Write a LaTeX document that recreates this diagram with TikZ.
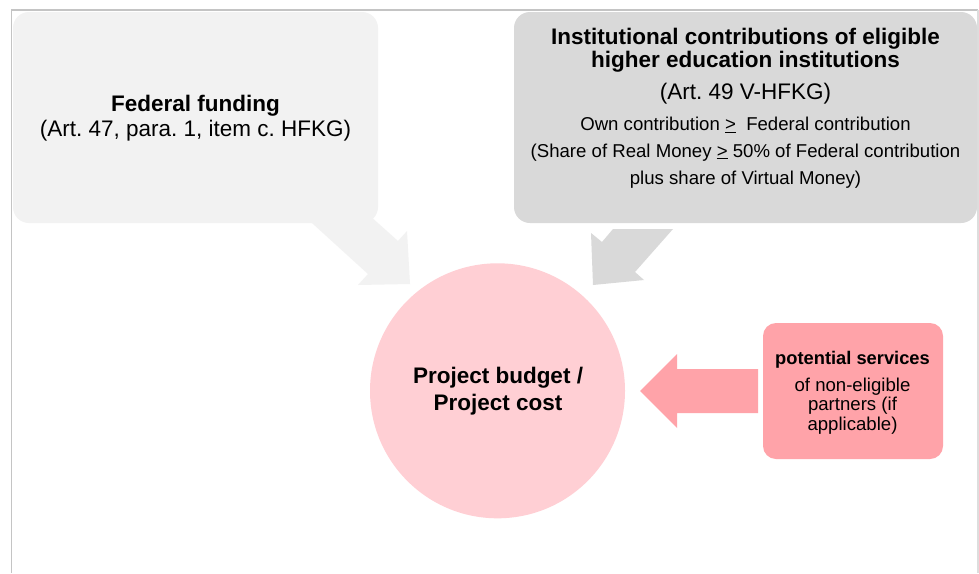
\documentclass[tikz,border=0pt]{standalone}
\usepackage{fontspec}
\setmainfont{Liberation Sans}
\frenchspacing
\definecolor{lgray}{HTML}{F2F2F2}
\definecolor{mgray}{HTML}{D9D9D9}
\definecolor{pinkL}{HTML}{FFCFD4}
\definecolor{pinkD}{HTML}{FFA3A9}
\definecolor{framec}{HTML}{C4C4C4}
\definecolor{framer}{HTML}{DDDDDD}
\begin{document}
\begin{tikzpicture}[x=1pt,y=-1pt,
  box/.style={rounded corners=16pt, inner sep=0pt, draw=none},
  txt/.style={anchor=base, inner sep=0pt, align=center},
  big/.style={font=\fontsize{22.5}{26}\selectfont},
  bigb/.style={font=\fontsize{22.5}{26}\selectfont\bfseries},
  small/.style={font=\fontsize{18.6}{22}\selectfont},
  smallb/.style={font=\fontsize{18.3}{22}\selectfont\bfseries},
]
\useasboundingbox (0,0) rectangle (979,573);
\fill[white] (0,0) rectangle (979,573);
\draw[framec, line width=1.5pt] (11.5,573) -- (11.5,10) -- (978,10);
\draw[framer, line width=1.2pt] (978,10) -- (978,573);

% boxes
\node[box, fill=lgray, minimum width=365pt, minimum height=211pt] (fed) at (195.5,117.5) {};
\node[box, fill=mgray, minimum width=463pt, minimum height=211pt] (inst) at (745.5,117.5) {};
\node[circle, fill=pinkL, minimum size=255pt, inner sep=0pt] (proj) at (497.5,390.8) {};
\node[box, rounded corners=13pt, fill=pinkD, minimum width=180pt, minimum height=136pt] (serv) at (853,391) {};

% block arrows
\fill[lgray] (290,203) -- (368,274) -- (358,285) -- (410,284) -- (407,231) -- (398,241) -- (350,198) -- cycle;
\fill[mgray] (613,229) -- (673,229) -- (635,272) -- (644,280) -- (593,285) -- (591,233) -- (602,242) -- cycle;
\fill[pinkD] (758,369) -- (677,369) -- (677,354) -- (640,391) -- (677,428) -- (677,413) -- (758,413) -- cycle;

% texts
\node[txt,bigb] (fedT1) at (195.5,111.7) {Federal funding};
\node[txt,big] (fedT2) at (195.5,136.7) {(Art. 47, para. 1, item c. HFKG)};

\node[txt,bigb] (instT1) at (745.5,44.3) {Institutional contributions of eligible};
\node[txt,bigb] (instT2) at (745.5,67.7) {higher education institutions};
\node[txt,big] (instT3) at (745.5,99.5) {(Art. 49 V-HFKG)};
\node[txt,small] (instT4) at (745.5,130.5) {Own contribution \underline{>}\ \ Federal contribution};
\node[txt,small] (instT5) at (745.5,157) {(Share of Real Money \underline{>} 50\% of Federal contribution};
\node[txt,small] (instT6) at (745.5,184) {plus share of Virtual Money)};

\node[txt,bigb] (projT1) at (498,383.3) {Project budget /};
\node[txt,bigb] (projT2) at (498,410) {Project cost};

\node[txt,smallb] (servT1) at (852.5,364) {potential services};
\node[txt,small] (servT2) at (852.5,391) {of non-eligible};
\node[txt,small] (servT3) at (852.5,410.5) {partners (if};
\node[txt,small] (servT4) at (852.5,430) {applicable)};
\end{tikzpicture}
\end{document}
